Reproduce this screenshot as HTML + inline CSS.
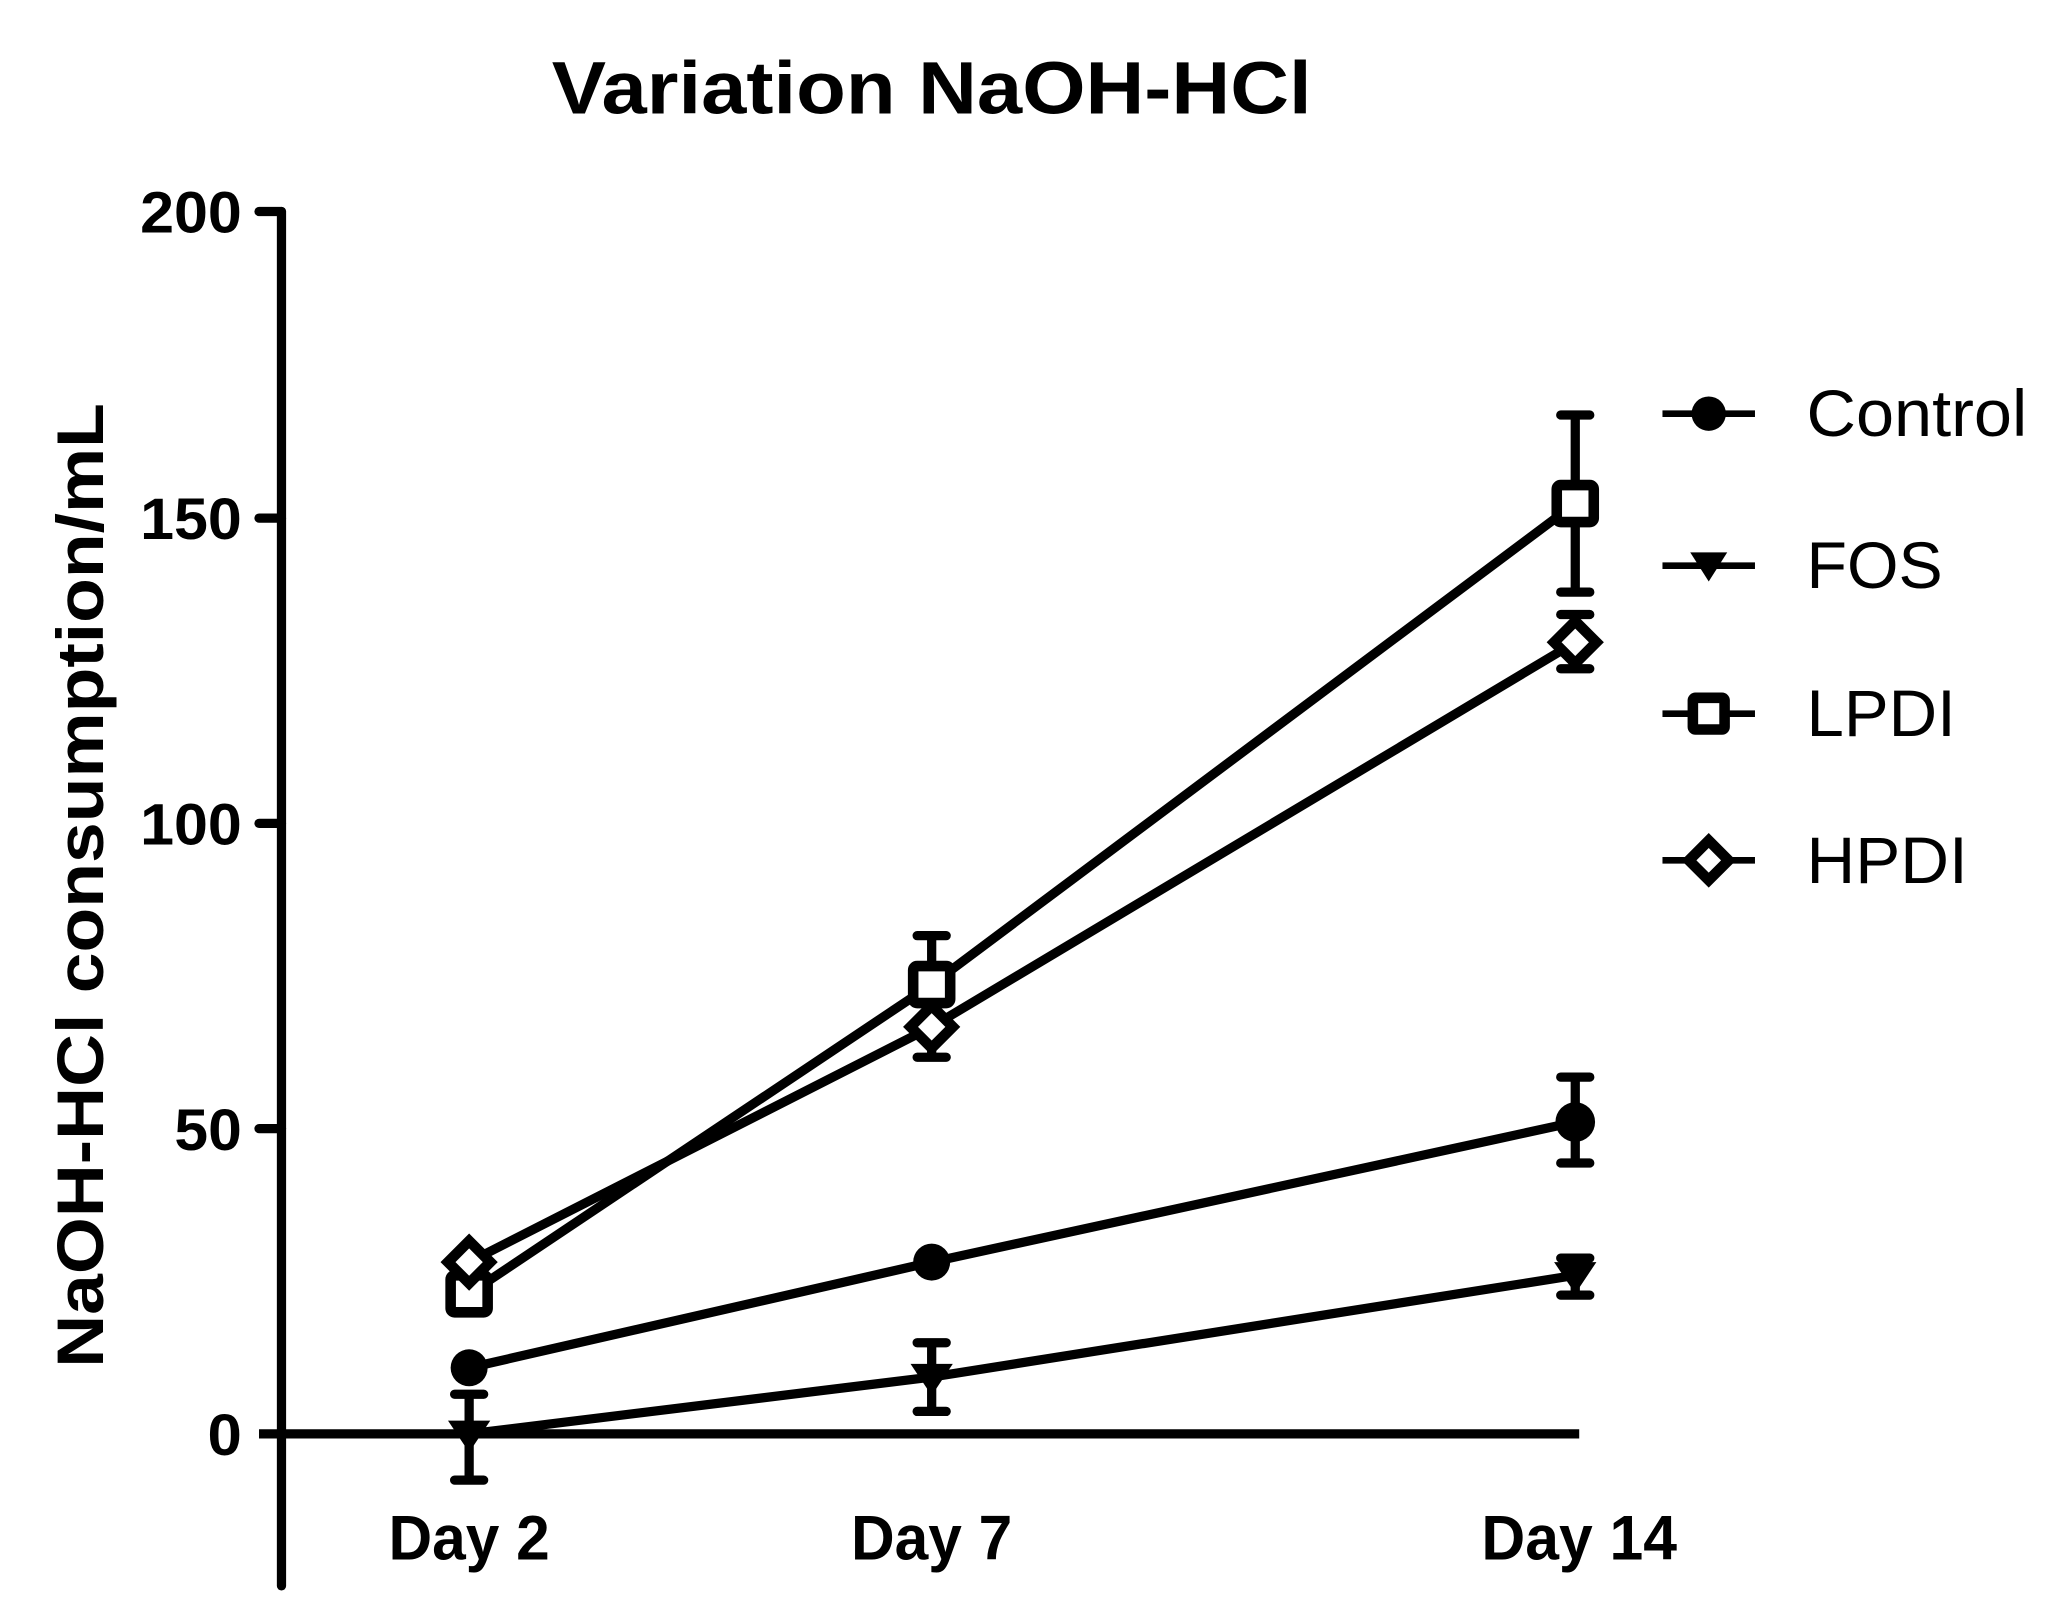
<!DOCTYPE html>
<html><head><meta charset="utf-8"><style>html,body{margin:0;padding:0;background:#fff}svg{display:block}</style></head>
<body>
<svg width="2051" height="1611" viewBox="0 0 1552 1219" xmlns="http://www.w3.org/2000/svg" font-family="Liberation Sans, Arial, sans-serif">
<rect width="1552" height="1219" fill="#fff"/>
<text x="705" y="86" text-anchor="middle" font-size="56" font-weight="bold" textLength="575" lengthAdjust="spacingAndGlyphs">Variation NaOH-HCl</text>
<g stroke="#000" stroke-width="7" stroke-linecap="round" fill="none">
<line x1="213" y1="160" x2="213" y2="1200"/>
<line x1="196" y1="160" x2="213" y2="160"/>
<line x1="196" y1="392" x2="213" y2="392"/>
<line x1="196" y1="623" x2="213" y2="623"/>
<line x1="196" y1="854" x2="213" y2="854"/>
<line x1="196" y1="1085" x2="1195" y2="1085" stroke-linecap="butt"/>
</g>
<g font-size="44" font-weight="bold" text-anchor="end">
<text x="183" y="176" textLength="77" lengthAdjust="spacingAndGlyphs">200</text>
<text x="183" y="408" textLength="77" lengthAdjust="spacingAndGlyphs">150</text>
<text x="183" y="639" textLength="77" lengthAdjust="spacingAndGlyphs">100</text>
<text x="183" y="870" textLength="51" lengthAdjust="spacingAndGlyphs">50</text>
<text x="183" y="1101" textLength="26" lengthAdjust="spacingAndGlyphs">0</text>
</g>
<g font-size="48" font-weight="bold" text-anchor="middle">
<text x="355" y="1180" textLength="122" lengthAdjust="spacingAndGlyphs">Day 2</text>
<text x="705" y="1180" textLength="122" lengthAdjust="spacingAndGlyphs">Day 7</text>
<text x="1195" y="1180" textLength="148" lengthAdjust="spacingAndGlyphs">Day 14</text>
</g>
<text transform="translate(78,670) rotate(-90)" text-anchor="middle" font-size="50" font-weight="bold" textLength="730" lengthAdjust="spacingAndGlyphs">NaOH-HCl consumption/mL</text>
<g stroke="#000" stroke-width="7" fill="none" stroke-linecap="round">
<path d="M1192 815V880M1181 815H1203M1181 880H1203"/>
<path d="M355 1055V1120M344 1055H366M344 1120H366"/>
<path d="M705 1016V1068M694 1016H716M694 1068H716"/>
<path d="M1192 952V980M1181 952H1203M1181 980H1203"/>
<path d="M705 708V745M694 708H716"/>
<path d="M1192 314V448M1181 314H1203M1181 448H1203"/>
<path d="M705 777V800M694 800H716"/>
<path d="M1192 465V506M1181 465H1203M1181 506H1203"/>
<polyline points="355,1035 705,955 1192,849"/>
<polyline points="355,1085 705,1042 1192,965"/>
<polyline points="355,979 705,745 1192,381"/>
<polyline points="355,955 705,777 1192,486"/>
</g>
<g fill="#000">
<circle cx="355" cy="1035" r="14"/><circle cx="705" cy="955" r="14"/><circle cx="1192" cy="849" r="15"/>
<path d="M339 1075H371L355 1099Z"/><path d="M689 1032H721L705 1056Z"/><path d="M1176 955H1208L1192 979Z"/>
</g>
<g stroke="#000" stroke-width="8" fill="#fff">
<rect x="341" y="965" width="28" height="28" rx="3"/><rect x="691" y="731" width="28" height="28" rx="3"/><rect x="1178" y="367" width="28" height="28" rx="3"/>
<path d="M355 939L371 955L355 971L339 955Z"/><path d="M705 761L721 777L705 793L689 777Z"/><path d="M1192 470L1208 486L1192 502L1176 486Z"/>
</g>
<g stroke="#000" stroke-width="5">
<line x1="1258" y1="313" x2="1328" y2="313"/>
<line x1="1258" y1="428" x2="1328" y2="428"/>
<line x1="1258" y1="540" x2="1328" y2="540"/>
<line x1="1258" y1="651" x2="1328" y2="651"/>
</g>
<circle cx="1293" cy="313" r="13" fill="#000"/>
<path d="M1279 418H1307L1293 440Z" fill="#000"/>
<rect x="1281" y="528" width="24" height="24" rx="2" fill="#fff" stroke="#000" stroke-width="8"/>
<path d="M1293 636L1308 651L1293 666L1278 651Z" fill="#fff" stroke="#000" stroke-width="8"/>
<g font-size="50">
<text x="1367" y="330" textLength="167" lengthAdjust="spacingAndGlyphs">Control</text>
<text x="1367" y="445" textLength="103" lengthAdjust="spacingAndGlyphs">FOS</text>
<text x="1367" y="557" textLength="113" lengthAdjust="spacingAndGlyphs">LPDI</text>
<text x="1367" y="668" textLength="122" lengthAdjust="spacingAndGlyphs">HPDI</text>
</g>
</svg>
</body></html>
